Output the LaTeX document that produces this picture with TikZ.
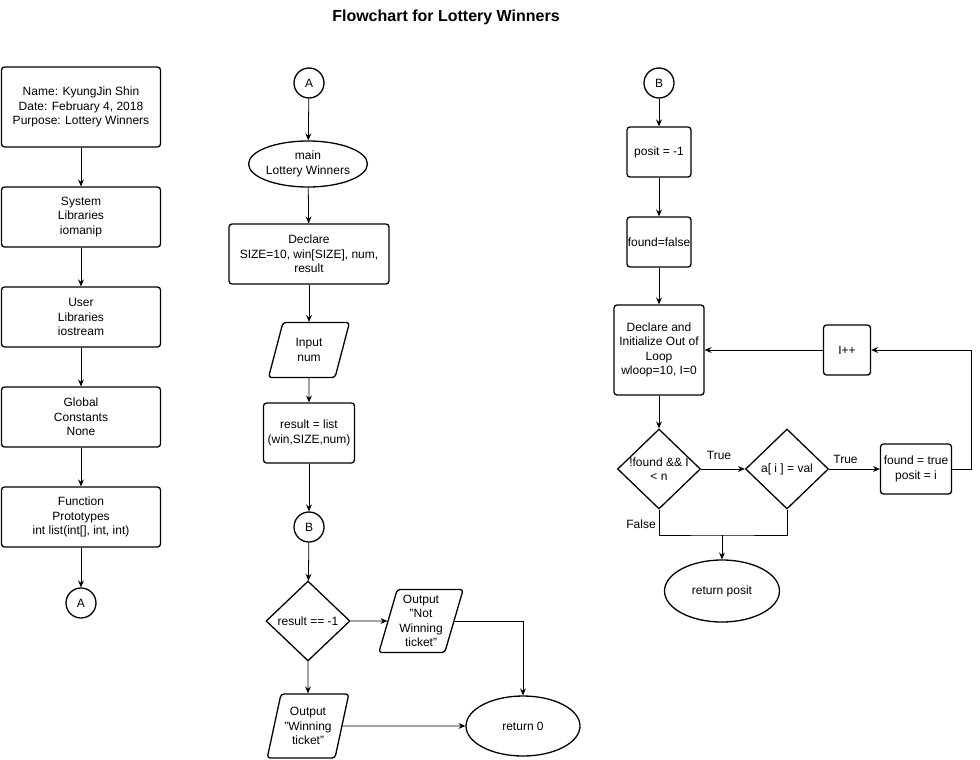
\documentclass[tikz,border=0pt]{standalone}
\usepackage{fontspec}
\defaultfontfeatures{}
\setmainfont{Liberation Sans}[Ligatures=ResetAll]
\usepackage{tikz}
\usetikzlibrary{positioning, shapes.geometric, arrows.meta}
\tikzstyle{flowchart} = [x = 1pt, y = -1pt, every node/.style={font=\fontsize{12}{14.4}\selectfont, align=center, inner sep=0pt}]
\tikzstyle{processStyle} = [draw, rectangle, rounded corners = 3pt, line width = 1.3pt]
\tikzstyle{terminalStyle} = [draw, ellipse, line width = 1.3pt]
\tikzstyle{connectorStyle} = [draw, circle, line width = 1.3pt, minimum size = 30pt]
\tikzstyle{ioStyle} = [draw, trapezium, trapezium left angle = 72, trapezium right angle = 108, trapezium stretches = true, rounded corners = 3pt, line width = 1.3pt]
\tikzstyle{decisionStyle} = [draw, diamond, line width = 1.3pt]
\tikzstyle{flowLine} = [-{Stealth[length = 7pt, width = 6pt, inset = 2.5pt]}, line width = .8pt]
\tikzstyle{plainLine} = [line width = .8pt]
\newcommand{\processBox}[5]{\node [processStyle, minimum width = #3, minimum height = #4] (#1) at (#2) {#5};}
\newcommand{\ioBox}[5]{\node [ioStyle, minimum width = #3, minimum height = #4] (#1) at (#2) {#5};}
\newcommand{\terminalNode}[5]{\node [terminalStyle, minimum width = #3, minimum height = #4] (#1) at (#2) {#5};}
\newcommand{\connectorNode}[3]{\node [connectorStyle] (#1) at (#2) {#3};}
\newcommand{\decisionNode}[5]{\node [decisionStyle, minimum width = #3, minimum height = #4] (#1) at (#2) {}; \node (#1Text) at (#1) {#5};}

\begin{document}
\begin{tikzpicture}[flowchart]
\useasboundingbox (0,0) rectangle (980,760);
\node [font = \fontsize{16}{19}\selectfont\bfseries] (title) at (446,17) {Flowchart for Lottery Winners};
% header column
\processBox{header}{81,107}{159}{80}{Name: KyungJin Shin\\Date: February 4, 2018\\Purpose: Lottery Winners}
\processBox{sysLib}{81,217}{159}{60}{System\\Libraries\\iomanip}
\processBox{userLib}{81,317}{159}{60}{User\\Libraries\\iostream}
\processBox{globalConst}{81,417}{159}{60}{Global\\Constants\\None}
\processBox{protoBox}{81,517}{159}{60}{Function\\Prototypes\\int list(int[], int, int)}
\connectorNode{connA}{81,603}{A}
\foreach \from/\to in {header/sysLib, sysLib/userLib, userLib/globalConst, globalConst/protoBox, protoBox/connA} {
  \draw [flowLine] (\from) -- (\to);
}
% main column
\connectorNode{mainA}{309,83}{A}
\terminalNode{mainStart}{308,164}{116}{46}{main\\Lottery Winners}
\processBox{mainDeclare}{309,254}{160}{60}{Declare\\SIZE=10, win[SIZE], num,\\result}
\ioBox{inputNum}{309,350}{81}{55}{Input\\num}
\processBox{callList}{309,433}{91}{60}{result = list\\(win,SIZE,num)}
\connectorNode{mainB}{309,527}{B}
\decisionNode{checkResult}{308,621}{84}{80}{result == -1}
\ioBox{outNotWin}{421,621}{85}{63}{Output\\"Not\\Winning\\ticket"}
\ioBox{outWin}{308,726}{82}{64}{Output\\"Winning\\ticket"}
\terminalNode{mainEnd}{523,726}{114}{60}{return 0}
\foreach \from/\to in {mainA/mainStart, mainStart/mainDeclare, mainDeclare/inputNum, inputNum/callList, callList/mainB, mainB/checkResult} {
  \draw [flowLine] (\from) -- (\to);
}
\draw [flowLine] (checkResult.east) -- (outNotWin.west);
\draw [flowLine] (checkResult.south) -- (outWin.north);
\draw [flowLine] (outNotWin.east) -| (mainEnd.north);
\draw [flowLine] (outWin.east) -- (mainEnd.west);
% list function column
\connectorNode{listB}{659,83}{B}
\processBox{setPosit}{659,152}{64}{50}{posit = -1}
\processBox{setFound}{659,242}{64}{50}{found=false}
\processBox{loopInit}{659,350}{90}{90}{Declare and\\Initialize Out of\\Loop\\wloop=10, I=0}
\processBox{loopInc}{847,350}{47}{50}{I++}
\decisionNode{loopTest}{659,469}{83}{80}{!found \&\& I\\< n}
\decisionNode{matchTest}{787,469}{83}{80}{a[ i ] = val}
\processBox{foundSet}{916,469}{71}{50}{found = true\\posit = i}
\terminalNode{listEnd}{722,591}{115}{62}{return posit}
\coordinate (mergeJoin) at (722,535);
\foreach \from/\to in {listB/setPosit, setPosit/setFound, setFound/loopInit, loopInit/loopTest} {
  \draw [flowLine] (\from) -- (\to);
}
\draw [flowLine] (loopTest.east) -- node [above = 9pt, xshift = -4pt] (trueOne) {True} (matchTest.west);
\draw [flowLine] (matchTest.east) -- node [above = 5pt, xshift = -9pt] (trueTwo) {True} (foundSet.west);
\draw [flowLine] (foundSet.east) -- ++(19,0) |- (loopInc.east);
\draw [flowLine] (loopInc.west) -- (loopInit.east);
\draw [plainLine] (loopTest.south) |- (mergeJoin) -| (matchTest.south);
\draw [flowLine] (mergeJoin) -- (listEnd.north);
\node (falseText) at (641,524) {False};
\end{tikzpicture}
\end{document}
